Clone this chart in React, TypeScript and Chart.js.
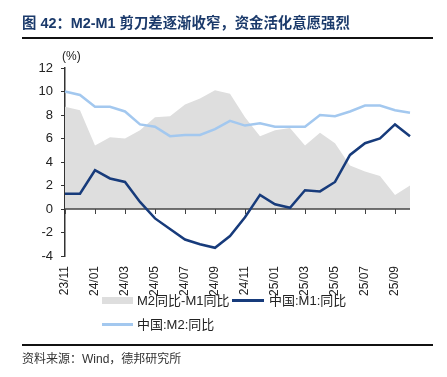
import React, { useEffect, useRef } from "react";
import { Chart, registerables } from "chart.js";

Chart.register(...registerables);

const months = [
  "23/11", "23/12", "24/01", "24/02", "24/03", "24/04", "24/05", "24/06",
  "24/07", "24/08", "24/09", "24/10", "24/11", "24/12", "25/01", "25/02",
  "25/03", "25/04", "25/05", "25/06", "25/07", "25/08", "25/09", "25/10",
];
const m1Yoy = [1.3, 1.3, 3.3, 2.6, 2.3, 0.6, -0.8, -1.7, -2.6, -3.0, -3.3, -2.3, -0.7, 1.2, 0.4, 0.1, 1.6, 1.5, 2.3, 4.6, 5.6, 6.0, 7.2, 6.2];
const m2Yoy = [10.0, 9.7, 8.7, 8.7, 8.3, 7.2, 7.0, 6.2, 6.3, 6.3, 6.8, 7.5, 7.1, 7.3, 7.0, 7.0, 7.0, 8.0, 7.9, 8.3, 8.8, 8.8, 8.4, 8.2];
const gapM2M1 = [8.7, 8.4, 5.4, 6.1, 6.0, 6.7, 7.8, 7.9, 8.9, 9.4, 10.1, 9.8, 7.8, 6.2, 6.7, 6.9, 5.4, 6.5, 5.6, 3.7, 3.2, 2.8, 1.2, 2.0];
const yTicks = [-4, 12, 2];

const titleText = "图 42：M2-M1 剪刀差逐渐收窄，资金活化意愿强烈";
const sourceText = "资料来源：Wind，德邦研究所";
const legendNames = ["M2同比-M1同比", "中国:M1:同比", "中国:M2:同比"];

const GRAY = "#dedede";
const DARK = "#173b7b";
const LIGHT = "#a3c8ef";
const FONT = "'Liberation Sans', Arial, 'Noto Sans CJK SC', sans-serif";

export default function App() {
  const ref = useRef<HTMLCanvasElement | null>(null);

  useEffect(() => {
    if (!ref.current) return;
    const overlay = {
      id: "overlay",
      beforeDatasetsDraw(chart: any) {
        const ctx = chart.ctx;
        const x = chart.scales.x;
        const y = chart.scales.y;
        const y0 = y.getPixelForValue(0);
        ctx.save();
        ctx.strokeStyle = "#444";
        ctx.lineWidth = 1.5;
        ctx.beginPath();
        ctx.moveTo(chart.chartArea.left, y0);
        ctx.lineTo(chart.chartArea.right, y0);
        ctx.stroke();
        ctx.lineWidth = 1;
        for (let i = 0; i < months.length; i += 2) {
          const px = Math.round(x.getPixelForValue(i)) + 0.5;
          ctx.beginPath();
          ctx.moveTo(px, y0);
          ctx.lineTo(px, y0 + 5);
          ctx.stroke();
        }
        ctx.restore();
      },
      afterDraw(chart: any) {
        const ctx = chart.ctx;
        ctx.save();
        // title
        ctx.fillStyle = "#1b3a6b";
        ctx.font = `bold 14.4px ${FONT}`;
        ctx.textBaseline = "middle";
        ctx.textAlign = "left";
        ctx.fillText(titleText, 22, 24);
        // rules
        ctx.fillStyle = "#111";
        ctx.fillRect(22, 37, 411, 2);
        ctx.fillRect(22, 344, 411, 2);
        // unit
        ctx.fillStyle = "#222";
        ctx.font = `12px ${FONT}`;
        ctx.fillText("(%)", 62, 57);
        // source
        ctx.fillStyle = "#333";
        ctx.font = `12px ${FONT}`;
        ctx.fillText(sourceText, 22, 360);
        // legend
        ctx.font = `13px ${FONT}`;
        ctx.fillStyle = GRAY;
        ctx.fillRect(102, 297, 31, 7);
        ctx.fillStyle = "#222";
        ctx.fillText(legendNames[0], 137, 301);
        ctx.strokeStyle = DARK;
        ctx.lineWidth = 3;
        ctx.beginPath();
        ctx.moveTo(232, 300.5);
        ctx.lineTo(264, 300.5);
        ctx.stroke();
        ctx.fillText(legendNames[1], 269, 301);
        ctx.strokeStyle = LIGHT;
        ctx.beginPath();
        ctx.moveTo(102, 324.5);
        ctx.lineTo(133, 324.5);
        ctx.stroke();
        ctx.fillText(legendNames[2], 137, 325);
        ctx.restore();
      },
    };

    const chart = new Chart(ref.current, {
      type: "line",
      data: {
        labels: months,
        datasets: [
          {
            label: legendNames[2],
            data: m2Yoy,
            borderColor: LIGHT,
            borderWidth: 2.5,
            pointRadius: 0,
            fill: false,
            tension: 0,
          },
          {
            label: legendNames[1],
            data: m1Yoy,
            borderColor: DARK,
            borderWidth: 2.5,
            pointRadius: 0,
            fill: false,
            tension: 0,
          },
          {
            label: legendNames[0],
            data: gapM2M1,
            borderColor: GRAY,
            borderWidth: 0,
            backgroundColor: GRAY,
            pointRadius: 0,
            fill: "origin",
            tension: 0,
          },
        ],
      },
      options: {
        responsive: false,
        animation: false,
        devicePixelRatio: 1,
        layout: { padding: { top: 68, right: 37, bottom: 81, left: 0 } },
        plugins: {
          legend: { display: false },
          tooltip: { enabled: false },
          filler: { drawTime: "beforeDatasetsDraw" },
        },
        scales: {
          x: {
            type: "category",
            offset: false,
            border: { display: false },
            grid: { display: false, drawTicks: false },
            ticks: {
              autoSkip: false,
              minRotation: 90,
              maxRotation: 90,
              padding: 10,
              color: "#222",
              font: { family: FONT, size: 12 },
              callback: (_v: any, i: number) => (i % 2 === 0 ? months[i] : ""),
            },
            afterFit: (s: any) => {
              s.height = 40;
            },
          },
          y: {
            min: yTicks[0],
            max: yTicks[1],
            border: { display: true, color: "#333", width: 1.5 },
            grid: { drawOnChartArea: false, drawTicks: true, tickLength: 4, color: "#333" },
            ticks: {
              stepSize: yTicks[2],
              padding: 8,
              color: "#222",
              font: { family: FONT, size: 13 },
            },
            afterFit: (s: any) => {
              s.width = 65;
            },
          },
        },
      },
      plugins: [overlay],
    } as any);
    return () => chart.destroy();
  }, []);

  return (
    <div style={{ position: "fixed", left: 0, top: 0, width: 447, height: 377, background: "#fff" }}>
      <canvas ref={ref} width={447} height={377} style={{ display: "block" }} />
    </div>
  );
}
